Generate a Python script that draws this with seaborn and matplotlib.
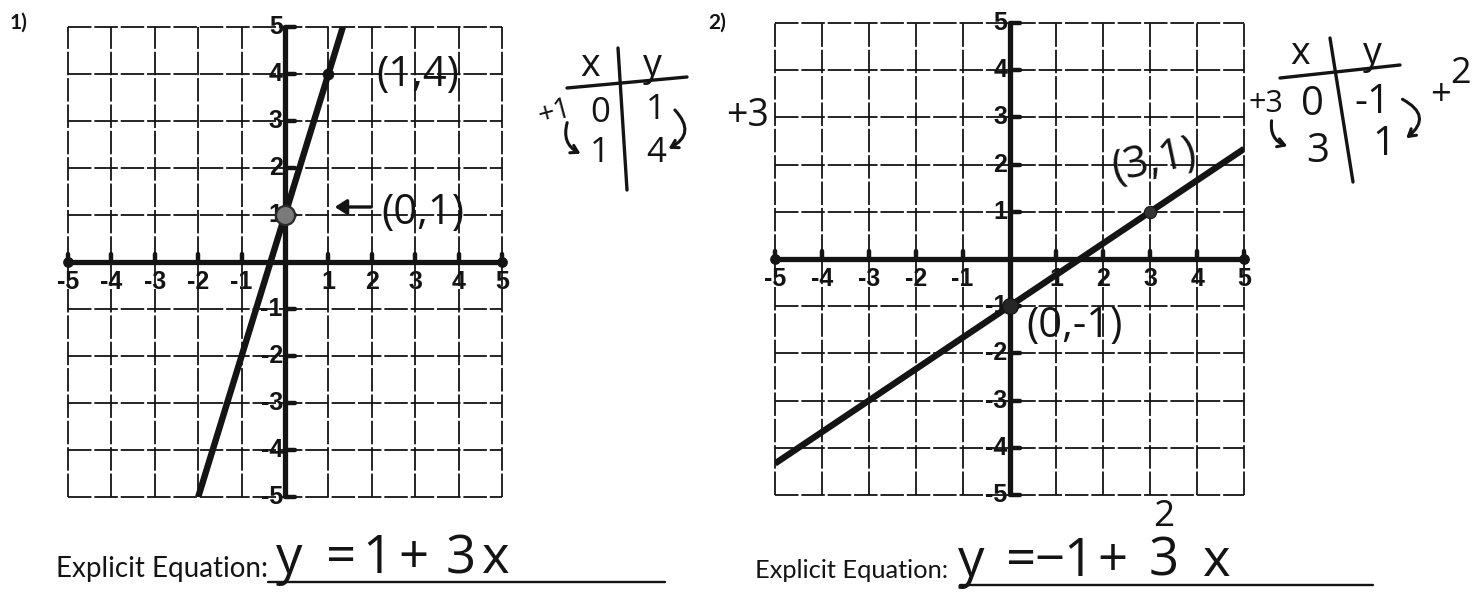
import matplotlib
matplotlib.use("Agg")
import matplotlib.pyplot as plt
import seaborn as sns

# ---------------- data ----------------
grid_values = [-5, -4, -3, -2, -1, 0, 1, 2, 3, 4, 5]
axis_labels = ["-5", "-4", "-3", "-2", "-1", "", "1", "2", "3", "4", "5"]

# Problem 1: y = 1 + 3x
line1_x = [-2, 1.333]
line1_y = [-5, 5]
pts1_x = [0, 1]
pts1_y = [1, 4]
pts1_text = ["(0,1)", "(1,4)"]
table1_x = ["0", "1"]
table1_y = ["1", "4"]

# Problem 2: y = -1 + 2/3 x
line2_x = [-5, 5]
line2_y = [-4.333, 2.333]
pts2_x = [0, 3]
pts2_y = [-1, 1]
pts2_text = ["(0,-1)", "(3,1)"]
table2_x = ["0", "3"]
table2_y = ["-1", "1"]

W, H = 1477, 607
INK = "#141414"
HAND = ["Open Sans", "DejaVu Sans"]

sns.set_style("white")
plt.rcParams["font.family"] = ["Open Sans", "DejaVu Sans"]
plt.rcParams["mathtext.fontset"] = "custom"
plt.rcParams["mathtext.rm"] = "Open Sans"

fig = plt.figure(figsize=(W / 100, H / 100), dpi=100)
fig.patch.set_facecolor("white")


def make_axes(left, top, right, bottom):
    return fig.add_axes([left / W, 1 - bottom / H, (right - left) / W, (bottom - top) / H])


def draw_plane(ax):
    ax.set_xlim(-5, 5)
    ax.set_ylim(-5, 5)
    ax.axis("off")
    for v in grid_values:
        ax.axvline(v, color=INK, lw=1.3, ls=(0, (13, 1.6)), clip_on=False, zorder=1)
        ax.axhline(v, color=INK, lw=1.3, ls=(0, (13, 1.6)), clip_on=False, zorder=1)
    # main axes
    ax.plot([-5, 5], [0, 0], color=INK, lw=3.8, solid_capstyle="round", clip_on=False, zorder=3)
    ax.plot([0, 0], [-5, 5], color=INK, lw=3.8, solid_capstyle="butt", clip_on=False, zorder=3)
    ax.scatter([-5, 5], [0, 0], s=45, color=INK, zorder=3, clip_on=False)
    for v, lab in zip(grid_values, axis_labels):
        if v != 0:
            ax.plot([v, v], [0, 0.17], color=INK, lw=3.2, clip_on=False, zorder=3)
            ax.plot([0, 0.22], [v, v], color=INK, lw=3.2, clip_on=False, zorder=3)
        if lab:
            ax.text(v, -0.18, lab, ha="center", va="top", fontsize=18,
                    family="Liberation Sans", fontweight="bold", color=INK, zorder=4)
            ax.text(-0.05, v, lab, ha="right", va="center", fontsize=18,
                    family="Liberation Sans", fontweight="bold", color=INK, zorder=4)


# ---------- problem 1 ----------
ax1 = make_axes(68, 27, 502, 497)
draw_plane(ax1)
sns.lineplot(x=line1_x, y=line1_y, ax=ax1, color=INK, lw=4.6, sort=False,
             solid_capstyle="butt", zorder=5)
sns.scatterplot(x=pts1_x[:1], y=pts1_y[:1], ax=ax1, s=190, color="#7a7a7a",
                edgecolor="#2a2a2a", linewidth=1.6, zorder=6, clip_on=False)
sns.scatterplot(x=pts1_x[1:], y=pts1_y[1:], ax=ax1, s=60, color=INK,
                edgecolor=INK, zorder=6, clip_on=False)

# ---------- problem 2 ----------
ax2 = make_axes(775, 23, 1244, 495)
draw_plane(ax2)
sns.lineplot(x=line2_x, y=line2_y, ax=ax2, color=INK, lw=4.6, sort=False,
             solid_capstyle="butt", zorder=5)
sns.scatterplot(x=pts2_x[:1], y=pts2_y[:1], ax=ax2, s=130, color="#262626",
                edgecolor=INK, zorder=6, clip_on=False)
sns.scatterplot(x=pts2_x[1:], y=pts2_y[1:], ax=ax2, s=80, color="#333333",
                edgecolor=INK, zorder=6, clip_on=False)

# ---------- handwriting / page text in pixel space ----------
ov = fig.add_axes([0, 0, 1, 1], zorder=10)
ov.set_xlim(0, W)
ov.set_ylim(H, 0)
ov.axis("off")
ov.patch.set_alpha(0)

hand = dict(family=HAND, color=INK, fontweight="normal")

# problem numbers
ov.text(10, 13, "1)", fontsize=15, fontweight="bold", family="Lato", va="top", color=INK)
ov.text(708, 13, "2)", fontsize=15, fontweight="bold", family="Lato", va="top", color=INK)

# point labels, problem 1
ov.text(376, 75, pts1_text[1], fontsize=30, va="center", **hand)
ov.annotate("", xy=(332, 207), xytext=(374, 207),
            arrowprops=dict(arrowstyle="-|>,head_length=0.7,head_width=0.45",
                            lw=2.4, color=INK))
ov.text(381, 213, pts1_text[0], fontsize=30, va="center", **hand)

# point labels, problem 2
ov.text(1108, 162, pts2_text[1], fontsize=31, va="center", rotation=12, **hand)
ov.text(1026, 326, pts2_text[0], fontsize=30, va="center", **hand)

# x/y table, problem 1
ov.plot([567, 687], [88, 77], color=INK, lw=2.4)
ov.plot([618, 627], [48, 190], color=INK, lw=2.4)
ov.text(590, 66, "x", fontsize=27, ha="center", va="center", **hand)
ov.text(652, 66, "y", fontsize=27, ha="center", va="center", **hand)
for i, (xv, yv) in enumerate(zip(table1_x, table1_y)):
    ov.text(600, 113 + 40 * i, xv, fontsize=25, ha="center", va="center", **hand)
    ov.text(656, 110 + 43 * i, yv, fontsize=25, ha="center", va="center", **hand)
ov.text(555, 112, "+1", fontsize=21, ha="center", va="center", rotation=15, **hand)
ov.annotate("", xy=(583, 155), xytext=(568, 120),
            arrowprops=dict(arrowstyle="->,head_length=0.5,head_width=0.3",
                            lw=2.2, color=INK, connectionstyle="arc3,rad=0.45"))
ov.annotate("", xy=(666, 150), xytext=(673, 108),
            arrowprops=dict(arrowstyle="->,head_length=0.5,head_width=0.3",
                            lw=2.2, color=INK, connectionstyle="arc3,rad=-0.7"))
ov.text(748, 116, "+3", fontsize=27, ha="center", va="center", **hand)

# x/y table, problem 2
ov.plot([1280, 1400], [78, 65], color=INK, lw=2.4)
ov.plot([1330, 1353], [38, 182], color=INK, lw=2.4)
ov.text(1300, 54, "x", fontsize=27, ha="center", va="center", **hand)
ov.text(1372, 54, "y", fontsize=27, ha="center", va="center", **hand)
for i, (xv, yv) in enumerate(zip(table2_x, table2_y)):
    ov.text(1312 + 6 * i, 105 + 47 * i, xv, fontsize=29, ha="center", va="center", **hand)
    ov.text(1372 + 12 * i, 103 + 42 * i, yv, fontsize=29, ha="center", va="center", **hand)
ov.text(1266, 104, "+3", fontsize=22, ha="center", va="center", **hand)
ov.annotate("", xy=(1290, 147), xytext=(1272, 118),
            arrowprops=dict(arrowstyle="->,head_length=0.5,head_width=0.3",
                            lw=2.2, color=INK, connectionstyle="arc3,rad=0.45"))
ov.annotate("", xy=(1404, 140), xytext=(1400, 98),
            arrowprops=dict(arrowstyle="->,head_length=0.5,head_width=0.3",
                            lw=2.2, color=INK, connectionstyle="arc3,rad=-0.8"))
ov.text(1440, 96, "+", fontsize=26, ha="center", va="center", **hand)
ov.text(1461, 74, "2", fontsize=26, ha="center", va="center", **hand)

# explicit equations
renderer = fig.canvas.get_renderer()


def fitted_label(x, y, width):
    t = ov.text(x, y, "Explicit Equation:", fontsize=20, family="Lato",
                va="baseline", color=INK)
    w = t.get_window_extent(renderer).width
    t.set_fontsize(20 * width / w)


fitted_label(56, 577, 212)
fitted_label(755, 578, 194)

ov.plot([268, 665], [582, 582], color=INK, lw=1.7)
ov.plot([960, 1373], [585, 585], color=INK, lw=1.7)

eq1 = [("y", 276), ("=", 326), ("1", 362), ("+", 398), ("3", 446), ("x", 482)]
for ch, xp in eq1:
    ov.text(xp, 573, ch, fontsize=38, va="baseline", **hand)

eq2 = [("y", 958), ("=", 1006), ("−", 1034), ("1", 1063), ("+", 1097),
       (r"$\mathrm{\overset{2}{3}}$", 1148), ("x", 1203)]
for ch, xp in eq2:
    ov.text(xp, 576, ch, fontsize=38, va="baseline", **hand)

fig.savefig("out.png", dpi=100, facecolor="white")
